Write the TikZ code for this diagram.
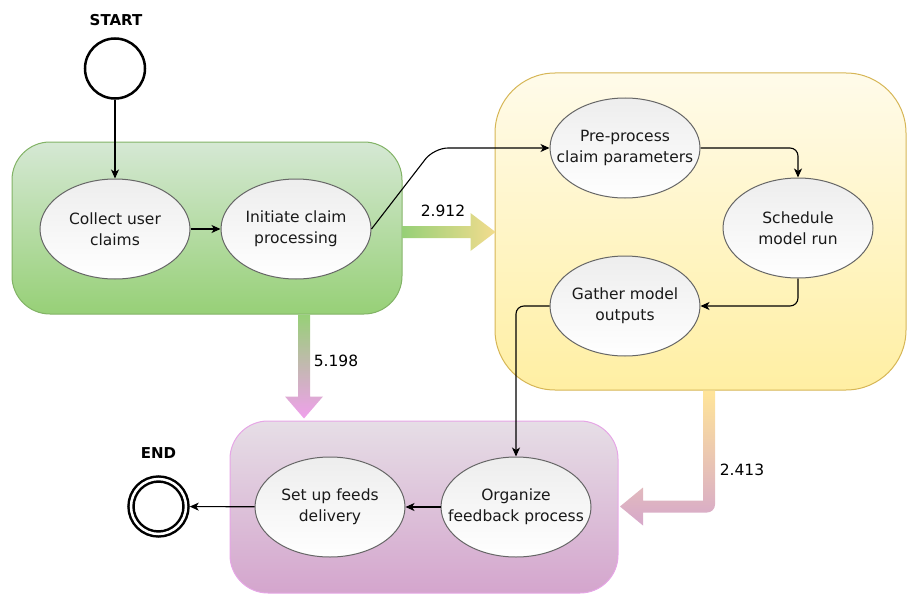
\documentclass[tikz,border=0pt]{standalone}
\usepackage{fontspec}
\setmainfont{DejaVu Sans}
\usetikzlibrary{shapes.geometric,arrows.meta,calc}

\definecolor{grnTop}{HTML}{D5E8D4}
\definecolor{grnBot}{HTML}{97D077}
\definecolor{grnLine}{HTML}{82B366}
\definecolor{ylwTop}{HTML}{FFFBEA}
\definecolor{ylwBot}{HTML}{FFEFA3}
\definecolor{ylwLine}{HTML}{D6B656}
\definecolor{prpTop}{HTML}{E6DEE6}
\definecolor{prpBot}{HTML}{D4A5CD}
\definecolor{prpLine}{HTML}{E6A6E6}
\definecolor{fatYlw}{HTML}{F2DC8E}
\definecolor{fatPnk}{HTML}{F0A0EC}
\definecolor{fatTop}{HTML}{FFE599}
\definecolor{fatBot}{HTML}{D6A8CB}

\begin{document}
\begin{tikzpicture}[
x=1pt, y=-1pt,
group/.style={
  rectangle,
  rounded corners=38pt,
  line width=1pt,
  inner sep=0pt
  },
task/.style={
  ellipse,
  draw=black!60,
  line width=1pt,
  top color=black!7,
  bottom color=white,
  minimum width=150pt,
  minimum height=100pt,
  inner xsep=-30pt,
  inner ysep=0pt,
  align=center,
  text=black!90,
  font=\fontsize{15.5}{21}\selectfont
  },
event/.style={
  circle,
  draw,
  line width=2.5pt,
  minimum size=60pt,
  inner sep=0pt
  },
title/.style={
  font=\bfseries\fontsize{15}{18}\selectfont
  },
weight/.style={
  font=\fontsize{15.5}{18}\selectfont
  },
flow/.style={
  ->,
  line width=1.1pt
  },
fat/.style={
  draw=none
  },
>={Stealth[length=9pt,width=8pt,inset=2.5pt]}
]
\useasboundingbox (0,0) rectangle (916,602);

% groups
\node[group, draw=grnLine, top color=grnTop, bottom color=grnBot,
  minimum width=390pt, minimum height=172pt] (grpA) at (207,228) {};
\node[group, draw=ylwLine, top color=ylwTop, bottom color=ylwBot,
  rounded corners=60pt, minimum width=411pt, minimum height=317pt] (grpB) at (700.5,231.5) {};
\node[group, draw=prpLine, top color=prpTop, bottom color=prpBot,
  minimum width=388pt, minimum height=172pt] (grpC) at (424,507) {};

% start and end
\node[title] (starttxt) at (116,20) {START};
\node[event] (start) at (115,68.5) {};
\node[title] (endtxt) at (158.5,453) {END};
\node[event, double, line width=2.5pt, double distance=2.5pt,
  minimum size=55pt, outer sep=3.75pt] (end) at (158.5,506.5) {};

% tasks
\node[task] (collect) at (115,229) {Collect user\\claims};
\node[task] (initiate) at (296,229) {Initiate claim\\processing};
\node[task] (pre) at (625,148) {Pre-process\\claim parameters};
\node[task] (sched) at (798,228) {Schedule\\model run};
\node[task] (gather) at (625,306) {Gather model\\outputs};
\node[task] (organize) at (516,507) {Organize\\feedback process};
\node[task] (setup) at (330,507) {Set up feeds\\delivery};

% flows
\coordinate (bend) at (434,148);
\draw[flow] (start) -- (collect);
\draw[flow] (collect) -- (initiate);
\draw[flow, rounded corners=14pt] (initiate.east) -- (bend) -- (pre.west);
\draw[flow, rounded corners=8pt] (pre.east) -| (sched.north);
\draw[flow, rounded corners=8pt] (sched.south) |- (gather.east);
\draw[flow, rounded corners=8pt] (gather.west) -| (organize.north);
\draw[flow] (organize) -- (setup);
\draw[flow] (setup) -- (end);

% weighted transfers
\shade[fat, left color=grnBot, right color=fatYlw]
  ($(grpA.east)+(0,-2)$) -- ++(68,0) -- ++(0,-13) -- ++(25,19)
  -- ++(-25,19) -- ++(0,-13) -- ++(-68,0) -- cycle;
\shade[fat, top color=grnBot, bottom color=fatPnk]
  ($(grpA.south)+(91,0)$) -- ++(12,0) -- ++(0,82) -- ++(13,0)
  -- ++(-19,22) -- ++(-19,-22) -- ++(13,0) -- cycle;
\shade[fat, top color=fatTop, bottom color=fatBot]
  ($(grpB.south)+(14.5,60)$) -- ++(0,54)
  arc[start angle=0, end angle=90, radius=8] -- ++(-64,0) -- ++(0,13)
  -- ++(-23,-19) -- ++(23,-19) -- ++(0,13) -- ++(60,0) -- ++(0,-110)
  -- ++(12,0) -- cycle;
\node[weight] (w1) at (443,211) {2.912};
\node[weight] (w2) at (336,361) {5.198};
\node[weight] (w3) at (742,470) {2.413};
\end{tikzpicture}
\end{document}
